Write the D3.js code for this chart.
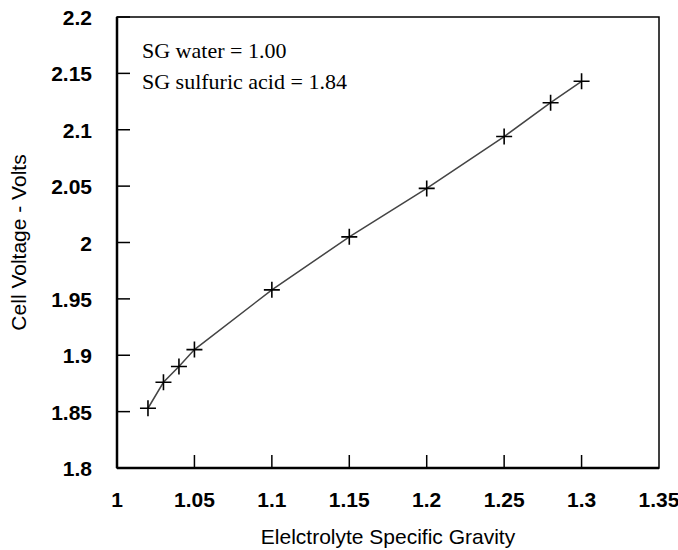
<!DOCTYPE html>
<html lang="en">
<head>
<meta charset="utf-8">
<title>Cell voltage vs specific gravity</title>
<script src="https://cdn.jsdelivr.net/npm/d3@7"></script>
<style>
  body { margin: 0; background: #fff; }
  .tick-label { font-family: "Liberation Sans", Arial, sans-serif; font-weight: bold; font-size: 21px; }
  .axis-title { font-family: "Liberation Sans", Arial, sans-serif; font-size: 21px; }
  .note { font-family: "Liberation Serif", "Times New Roman", serif; font-size: 22px; }
</style>
</head>
<body>
<script>
// data
var gravity = [1.02, 1.03, 1.04, 1.05, 1.10, 1.15, 1.20, 1.25, 1.28, 1.30];
var voltage = [1.853, 1.876, 1.890, 1.905, 1.958, 2.005, 2.048, 2.094, 2.124, 2.143];
var xTicks = [1, 1.05, 1.1, 1.15, 1.2, 1.25, 1.3, 1.35];
var yTicks = [1.8, 1.85, 1.9, 1.95, 2, 2.05, 2.1, 2.15, 2.2];
var notes = ["SG water = 1.00", "SG sulfuric acid = 1.84"];

var w = 678, h = 550;
var pLeft = 117, pRight = 659, pTop = 17, pBottom = 468;

var x = d3.scaleLinear().domain([1, 1.35]).range([pLeft, pRight]);
var y = d3.scaleLinear().domain([1.8, 2.2]).range([pBottom, pTop]);

var svg = d3.select("body").append("svg")
  .attr("width", w)
  .attr("height", h);

// frame
svg.append("rect")
  .attr("x", pLeft).attr("y", pTop)
  .attr("width", pRight - pLeft).attr("height", pBottom - pTop)
  .attr("fill", "none").attr("stroke", "#000").attr("stroke-width", 1.5);
svg.append("line")
  .attr("x1", pLeft).attr("x2", pLeft).attr("y1", pTop).attr("y2", pBottom)
  .attr("stroke", "#000").attr("stroke-width", 2.5);
svg.append("line")
  .attr("x1", pLeft).attr("x2", pRight).attr("y1", pBottom).attr("y2", pBottom)
  .attr("stroke", "#000").attr("stroke-width", 2.5);

// ticks pointing inward
svg.selectAll(".ytick").data(yTicks.slice(1)).enter().append("line")
  .attr("x1", pLeft).attr("x2", pLeft + 13)
  .attr("y1", function(d) { return y(d); }).attr("y2", function(d) { return y(d); })
  .attr("stroke", "#000").attr("stroke-width", 1.5);
svg.selectAll(".xtick").data(xTicks.slice(1, -1)).enter().append("line")
  .attr("y1", pBottom).attr("y2", pBottom - 13)
  .attr("x1", function(d) { return x(d); }).attr("x2", function(d) { return x(d); })
  .attr("stroke", "#000").attr("stroke-width", 1.5);

// tick labels
svg.selectAll(".ylab").data(yTicks).enter().append("text")
  .attr("class", "tick-label")
  .attr("x", 92)
  .attr("y", function(d) { return y(d) + 8; })
  .attr("text-anchor", "end")
  .text(function(d) { return d3.format("")(d); });
svg.selectAll(".xlab").data(xTicks).enter().append("text")
  .attr("class", "tick-label")
  .attr("x", function(d) { return x(d); })
  .attr("y", 507)
  .attr("text-anchor", "middle")
  .text(function(d) { return d3.format("")(d); });

// axis titles
svg.append("text")
  .attr("class", "axis-title")
  .attr("transform", "translate(26," + ((pTop + pBottom) / 2) + ") rotate(-90)")
  .attr("text-anchor", "middle")
  .text("Cell Voltage - Volts");
svg.append("text")
  .attr("class", "axis-title")
  .attr("x", (pLeft + pRight) / 2)
  .attr("y", 544)
  .attr("text-anchor", "middle")
  .text("Elelctrolyte Specific Gravity");

// line
var pts = gravity.map(function(g, i) { return [g, voltage[i]]; });
var line = d3.line()
  .x(function(d) { return x(d[0]); })
  .y(function(d) { return y(d[1]); });
svg.append("path").datum(pts)
  .attr("d", line)
  .attr("fill", "none")
  .attr("stroke", "#444")
  .attr("stroke-width", 1.5);

// plus markers
svg.selectAll(".pt").data(pts).enter().append("path")
  .attr("transform", function(d) { return "translate(" + x(d[0]) + "," + y(d[1]) + ")"; })
  .attr("d", "M-8,0H8M0,-8V8")
  .attr("stroke", "#000")
  .attr("stroke-width", 1.6)
  .attr("fill", "none");

// notes
svg.selectAll(".note").data(notes).enter().append("text")
  .attr("class", "note")
  .attr("x", 142)
  .attr("y", function(d, i) { return 58 + i * 31; })
  .text(function(d) { return d; });
</script>
</body>
</html>
